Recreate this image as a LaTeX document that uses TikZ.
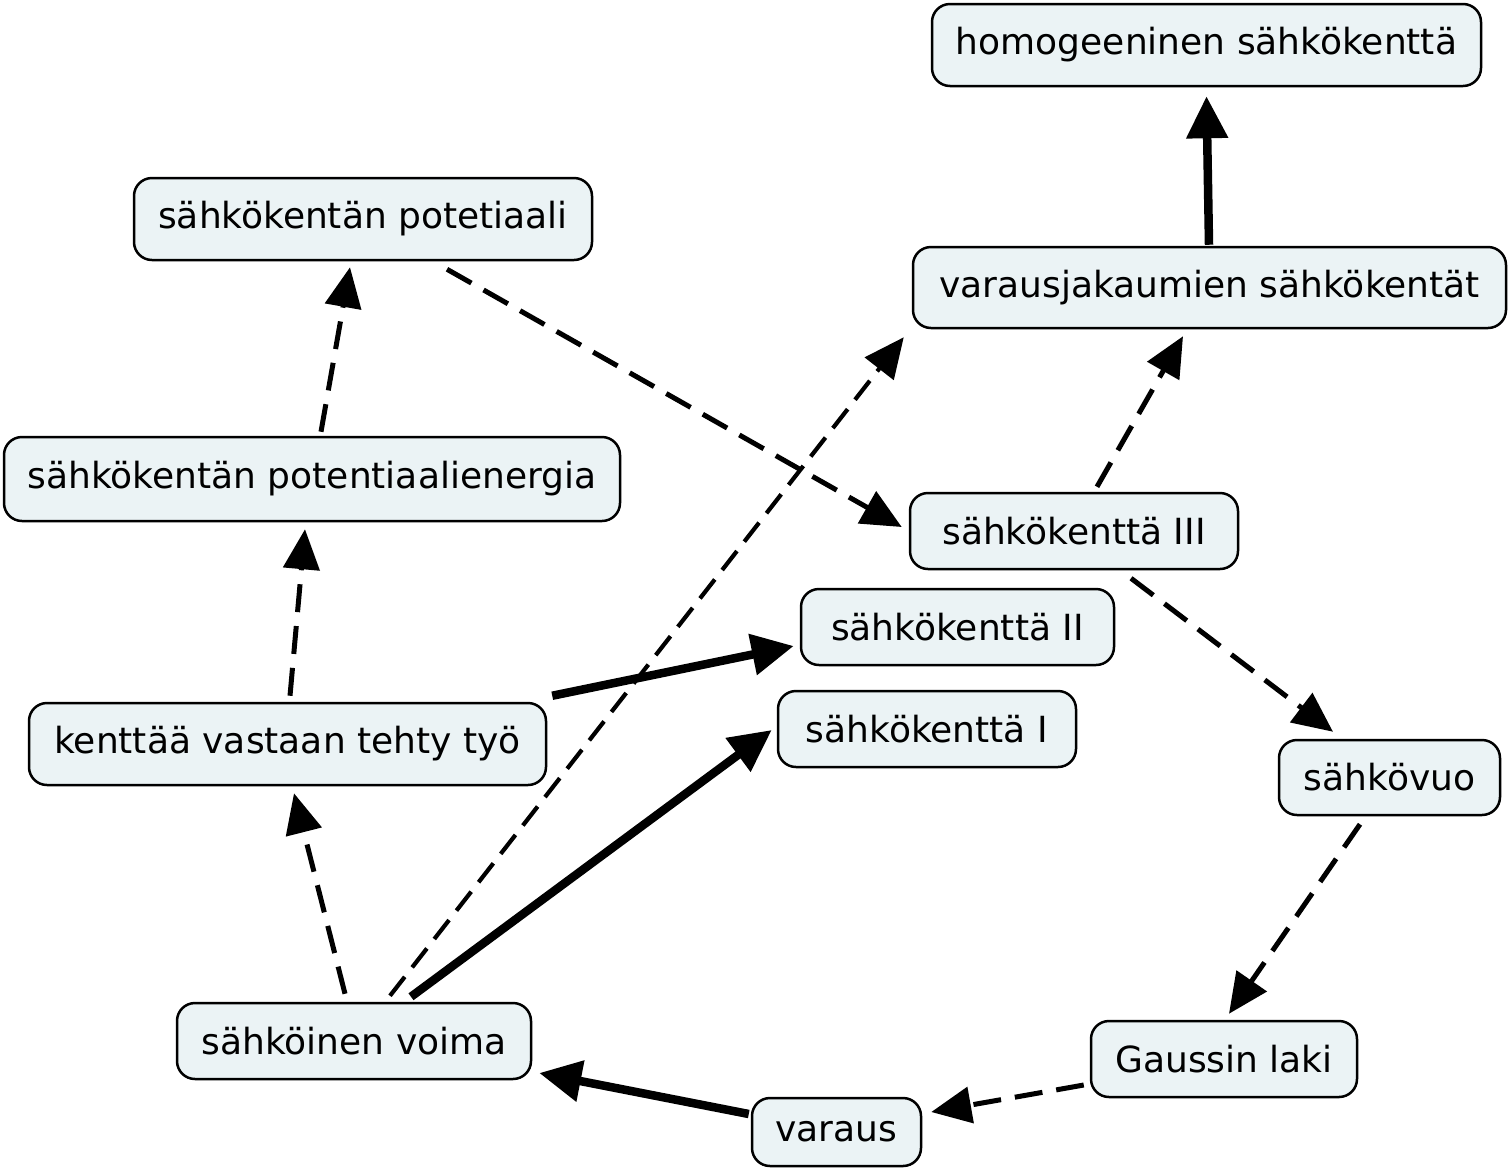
\documentclass[tikz,border=0pt]{standalone}
\usepackage{fontspec}
\setmainfont{DejaVu Sans}
\usetikzlibrary{arrows.meta,calc}
\definecolor{nodefill}{HTML}{EBF3F5}
\tikzset{
  box/.style={draw=black, line width=2.5pt, fill=nodefill, rounded corners=18pt,
    inner sep=0pt, align=center, font=\fontsize{36}{42}\selectfont},
  solidarrow/.style={line width=8.5pt, -{Triangle[length=42pt,width=40pt]}},
  dasharrow/.style={line width=5pt, dash pattern=on 28pt off 14pt, -{Triangle[length=40pt,width=36pt]}},
  thindasharrow/.style={line width=4.2pt, dash pattern=on 24pt off 12pt, -{Triangle[length=40pt,width=36pt]}},
}
\begin{document}
\begin{tikzpicture}[x=1pt,y=-1pt]
\useasboundingbox[fill=white] (0,0) rectangle (1510,1171);

\node[box, minimum width=549pt, minimum height=82pt] (hom) at (1206.5,45) {homogeeninen sähkökenttä};
\node[box, minimum width=458pt, minimum height=82pt] (pot) at (363,219) {sähkökentän potetiaali};
\node[box, minimum width=593pt, minimum height=81pt] (vs) at (1209.5,287.5) {varausjakaumien sähkökentät};
\node[box, minimum width=616pt, minimum height=84pt] (pe) at (312,479) {sähkökentän potentiaalienergia};
\node[box, minimum width=328pt, minimum height=76pt] (k3) at (1074,531) {sähkökenttä III};
\node[box, minimum width=313pt, minimum height=76pt] (k2) at (957.5,627) {sähkökenttä II};
\node[box, minimum width=298pt, minimum height=76pt] (k1) at (927,729) {sähkökenttä I};
\node[box, minimum width=517pt, minimum height=82pt] (kv) at (287.5,744) {kenttää vastaan tehty työ};
\node[box, minimum width=221pt, minimum height=75pt] (vuo) at (1389.5,777.5) {sähkövuo};
\node[box, minimum width=354pt, minimum height=76pt] (sv) at (354,1041) {sähköinen voima};
\node[box, minimum width=266pt, minimum height=76pt] (gl) at (1224,1059) {Gaussin laki};
\node[box, minimum width=169pt, minimum height=68pt] (var) at (836.5,1132) {varaus};

% connectors
\draw[solidarrow] ($(vs.north)+(-0.5,-1)$) -- ($(hom.south)+(0,9)$);
\draw[dasharrow] ($(kv.north)+(2.5,-6)$) -- ($(pe.south)+(-7,7)$);
\draw[dasharrow] ($(pe.north)+(9,-4)$) -- ($(pot.south)+(-13,6)$);
\draw[dasharrow] ($(pot.south)+(84,8)$) -- ($(k3.west)+(-7,-4)$);
\draw[dasharrow] ($(k3.north)+(23,-5)$) -- ($(vs.south)+(-26.5,7)$);
\draw[dasharrow] ($(k3.south)+(57,8)$) -- ($(vuo.north)+(-56.5,-7)$);
\draw[dasharrow] ($(vuo.south)+(-29.5,8)$) -- ($(gl.north)+(5,-6)$);
\draw[dasharrow] ($(gl.west)+(-6,26)$) -- ($(var.east)+(9,-20)$);
\draw[solidarrow] ($(var.west)+(-2,-18)$) -- ($(sv.east)+(7,32)$);
\draw[dasharrow] ($(sv.north)+(-9,-8)$) -- ($(kv.south)+(6.5,7)$);
\draw[thindasharrow] ($(sv.north)+(36,-6)$) -- ($(vs.south west)+(-8,8)$);
\draw[solidarrow] ($(sv.north)+(57,-5)$) -- ($(k1.west)+(-5,1)$);
\draw[solidarrow] ($(kv.north east)+(5,-6)$) -- ($(k2.west)+(-6,19)$);
\end{tikzpicture}
\end{document}
